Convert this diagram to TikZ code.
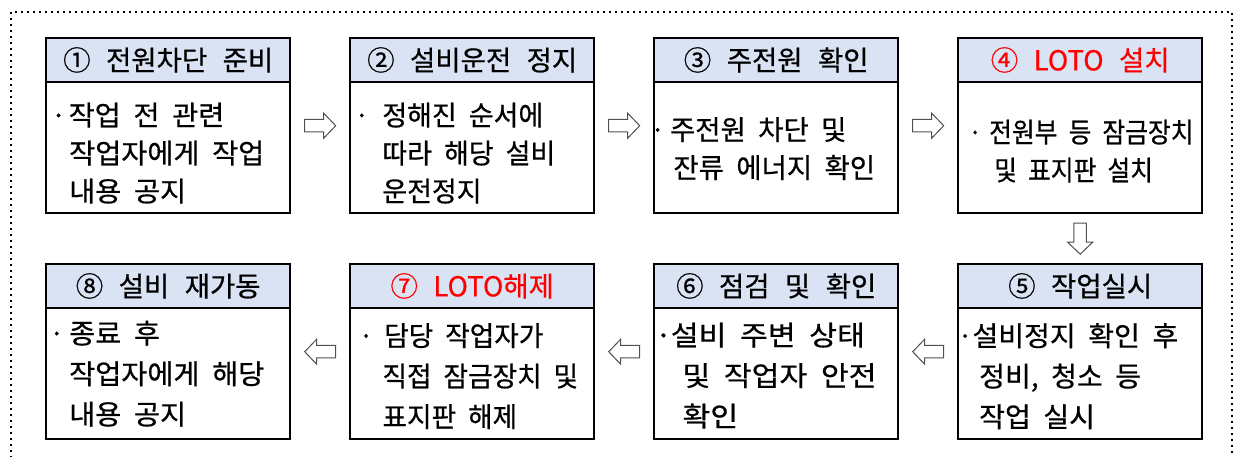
\documentclass[tikz,border=0pt]{standalone}
\usepackage{fontspec}
\setmainfont{Noto Sans CJK KR}[WordSpace=2, FakeBold=0.6]
\newfontfamily\hdrfam{Noto Sans CJK KR}[WordSpace=2.5, FakeBold=0.6]
\usetikzlibrary{calc}
\definecolor{hdr}{RGB}{218,227,243}
\definecolor{redtxt}{RGB}{255,0,0}
\definecolor{arrowgray}{RGB}{80,80,80}
\newcommand\bulletat[1]{\makebox[0pt][c]{·}\hspace*{#1}}
\newcommand\hdrfont{\hdrfam\fontsize{27.5}{30}\selectfont}
\newcommand\bodyfontA[1]{\fontsize{27.5}{38}\selectfont\addfontfeature{FakeStretch=#1}}
\newcommand\bodyfontB[1]{\fontsize{27.5}{40.5}\selectfont\addfontfeature{FakeStretch=#1}}
\begin{document}
\begin{tikzpicture}[x=1pt,y=-1pt,
  frame/.style={draw, line width=2.4pt, minimum width=244pt, minimum height=175pt, inner sep=0pt, anchor=north west},
  head/.style={draw, line width=2.4pt, fill=hdr, minimum width=244pt, minimum height=43.5pt, inner sep=0pt, anchor=north,
     font=\hdrfont},
  bodyA/.style={anchor=west, inner sep=0pt, align=left, font=\bodyfontA{#1}},
  bodyA/.default=1,
  bodyB/.style={anchor=west, inner sep=0pt, align=left, font=\bodyfontB{#1}},
  bodyB/.default=1,
  blockarr/.pic={\draw[arrowgray, line width=1pt, fill=white, line join=miter]
     (-15.5,-6.25) -- (3.5,-6.25) -- (3.5,-12.5) -- (15.5,0) -- (3.5,12.5) -- (3.5,6.25) -- (-15.5,6.25) -- cycle;},
  redtext/.style={text=redtxt},
  outer/.style={draw, line width=2pt, dash pattern=on 2pt off 4pt}
]
\useasboundingbox (0,0) rectangle (1237,456);
\draw[outer] (11,470) -- (11,12) -- (1232,12) -- (1232,470);

% frames
\node[frame] (f1) at (45,37) {};
\node[frame] (f2) at (349,37) {};
\node[frame] (f3) at (653,37) {};
\node[frame] (f4) at (957,37) {};
\node[frame] (f5) at (957,263) {};
\node[frame] (f6) at (653,263) {};
\node[frame] (f7) at (349,263) {};
\node[frame] (f8) at (45,263) {};

% headers
\node[head] (h1) at (f1.north) {① 전원차단 준비};
\node[head] (h2) at (f2.north) {② 설비운전 정지};
\node[head] (h3) at (f3.north) {③ 주전원 확인};
\node[head, redtext] (h4) at (f4.north) {④ LOTO 설치};
\node[head] (h5) at (f5.north) {⑤ 작업실시};
\node[head] (h6) at (f6.north) {⑥ 점검 및 확인};
\node[head, redtext] (h7) at (f7.north) {⑦ LOTO해제};
\node[head] (h8) at (f8.north) {⑧ 설비 재가동};

% body texts
\node[bodyA=1.03] (t1) at ($(h1.south west)!0.5!(f1.south west)+(13.5,4.5)$)
  {\bulletat{10pt}작업 전 관련\\\hspace*{10.5pt}작업자에게 작업\\\hspace*{10.5pt}내용 공지};
\node[bodyA=0.98] (t2) at ($(h2.south west)!0.5!(f2.south west)+(12.7,4.5)$)
  {\bulletat{20.5pt}정해진 순서에\\\hspace*{20.5pt}따라 해당 설비\\\hspace*{20.5pt}운전정지};
\node[bodyA] (t3) at ($(h3.south west)!0.5!(f3.south west)+(4.5,0)$)
  {\bulletat{12.3pt}주전원 차단 및\\\hspace*{15.7pt}잔류 에너지 확인};
\node[bodyA=0.9] (t4) at ($(h4.south west)!0.5!(f4.south west)+(18,2.5)$)
  {\bulletat{14pt}전원부 등 잠금장치\\\hspace*{19pt}및 표지판 설치};
\node[bodyB=1.02] (t5) at ($(h5.south west)!0.5!(f5.south west)+(8,1.5)$)
  {\bulletat{7.3pt}설비정지 확인 후\\\hspace*{14pt}정비, 청소 등\\\hspace*{14pt}작업 실시};
\node[bodyB=1.1] (t6) at ($(h6.south west)!0.5!(f6.south west)+(10.3,1)$)
  {\bulletat{7.3pt}설비 주변 상태\\\hspace*{19pt}및 작업자 안전\\\hspace*{19pt}확인};
\node[bodyB=0.97] (t7) at ($(h7.south west)!0.5!(f7.south west)+(17,1.5)$)
  {\bulletat{18pt}담당 작업자가\\\hspace*{16.3pt}직접 잠금장치 및\\\hspace*{16.3pt}표지판 해제};
\node[bodyB=1.03] (t8) at ($(h8.south west)!0.5!(f8.south west)+(11.7,-1)$)
  {\bulletat{12.3pt}종료 후\\\hspace*{12.3pt}작업자에게 해당\\\hspace*{12.3pt}내용 공지};

% block arrows between the boxes
\coordinate (c12) at ($(f1.east)!0.5!(f2.west)$);
\coordinate (c23) at ($(f2.east)!0.5!(f3.west)$);
\coordinate (c34) at ($(f3.east)!0.5!(f4.west)$);
\coordinate (c45) at ($(f4.south)!0.5!(f5.north)$);
\coordinate (c56) at ($(f5.west)!0.5!(f6.east)$);
\coordinate (c67) at ($(f6.west)!0.5!(f7.east)$);
\coordinate (c78) at ($(f7.west)!0.5!(f8.east)$);
\pic at (c12) {blockarr};
\pic at (c23) {blockarr};
\pic at (c34) {blockarr};
\pic[rotate=-90] at (c45) {blockarr};
\pic[rotate=180] at (c56) {blockarr};
\pic[rotate=180] at (c67) {blockarr};
\pic[rotate=180] at (c78) {blockarr};
\end{tikzpicture}
\end{document}
